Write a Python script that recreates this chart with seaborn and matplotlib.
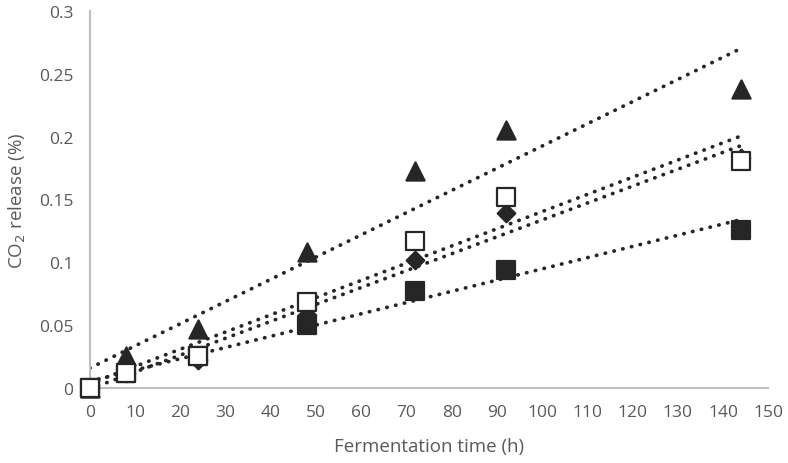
import pandas as pd
import seaborn as sns
import matplotlib.pyplot as plt
import numpy as np

# Fermentation times (h)
time_h = [0, 8, 24, 48, 72, 92, 144]

# CO2 release (%) for each treatment
tri_filled = [0, 0.025, 0.047, 0.108, 0.173, 0.205, 0.238]
diamond = [0, 0.012, 0.022, 0.058, 0.102, 0.139, 0.183]
sq_open = [0, 0.012, 0.025, 0.068, 0.117, 0.152, 0.181]
sq_filled = [0, 0.012, 0.025, 0.050, 0.077, 0.094, 0.126]

x_ticks = list(range(0, 151, 10))
y_ticks = [0, 0.05, 0.1, 0.15, 0.2, 0.25, 0.3]
y_tick_labels = ["0", "0.05", "0.1", "0.15", "0.2", "0.25", "0.3"]

sns.set_theme(style="white")
plt.rcParams["font.family"] = ["Open Sans", "DejaVu Sans"]

dark = "#262626"
grey_txt = "#595959"

fig = plt.figure(figsize=(7.88, 4.64), dpi=100)
ax = fig.add_axes([0.114, 0.162, 0.861, 0.812])

series = [
    (tri_filled, "^", dark, dark, 170),
    (sq_filled, "s", dark, dark, 150),
    (diamond, "D", dark, dark, 80),
    (sq_open, "s", "white", dark, 150),
]

# dotted linear trend lines
for vals, *_ in series:
    sns.regplot(x=time_h, y=vals, ax=ax, scatter=False, ci=None, truncate=True,
                line_kws=dict(color=dark, lw=2.7, linestyle=(0, (0.1, 2.3)),
                              dash_capstyle="round"))

# markers
for vals, mk, fc, ec, sz in series:
    sns.scatterplot(x=time_h, y=vals, ax=ax, marker=mk, s=sz, color=fc,
                    edgecolor=ec, linewidth=1.6, clip_on=False, zorder=5)

ax.set_xlim(0, 150)
ax.set_ylim(0, 0.3)
ax.set_xticks(x_ticks)
ax.set_yticks(y_ticks)
ax.set_yticklabels(y_tick_labels)
ax.tick_params(axis="both", length=0, labelsize=12.5, colors=grey_txt, pad=12)

for side in ["top", "right"]:
    ax.spines[side].set_visible(False)
for side in ["left", "bottom"]:
    ax.spines[side].set_color("#bfbfbf")
    ax.spines[side].set_linewidth(1.5)

ax.set_xlabel("Fermentation time (h)", fontsize=13.5, color=grey_txt, labelpad=12)
ax.set_ylabel("CO$_2$ release (%)", fontsize=13.5, color=grey_txt, labelpad=8)

fig.savefig("out.png", dpi=100)
